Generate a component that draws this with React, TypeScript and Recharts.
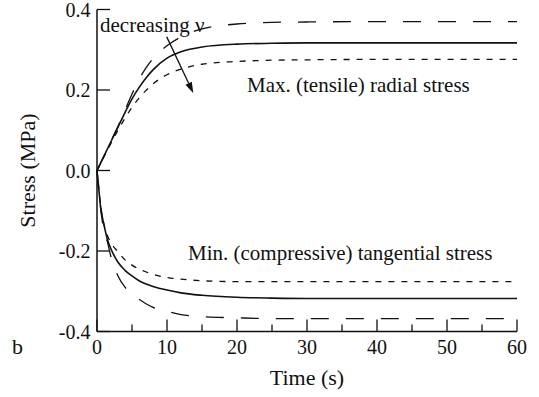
import React from "react";
import { LineChart, Line, XAxis, YAxis, ReferenceLine, ReferenceDot } from "recharts";

const FONT = "Liberation Serif, Times New Roman, serif";

// time samples (s)
const time = [0, 0.25, 0.5, 1, 1.5, 2, 3, 4, 5, 6, 7, 8, 10, 12, 15, 20, 25, 30, 40, 50, 60];

// max. (tensile) radial stress, MPa — high / mid / low Poisson ratio
const radialHigh = [0, 0.009, 0.018, 0.036, 0.054, 0.073, 0.11, 0.15, 0.19, 0.226, 0.255, 0.278, 0.31, 0.332, 0.352, 0.364, 0.368, 0.369, 0.37, 0.37, 0.37];
const radialMid = [0, 0.009, 0.018, 0.036, 0.054, 0.072, 0.108, 0.144, 0.178, 0.206, 0.23, 0.25, 0.279, 0.295, 0.307, 0.314, 0.316, 0.317, 0.317, 0.317, 0.317];
const radialLow = [0, 0.008, 0.017, 0.034, 0.051, 0.068, 0.1, 0.13, 0.157, 0.18, 0.199, 0.215, 0.238, 0.252, 0.264, 0.271, 0.274, 0.275, 0.276, 0.276, 0.276];

// min. (compressive) tangential stress, MPa
const tangentialHigh = [0, -0.05, -0.092, -0.15, -0.178, -0.215, -0.262, -0.29, -0.307, -0.32, -0.331, -0.34, -0.35, -0.358, -0.363, -0.366, -0.368, -0.368, -0.368, -0.368, -0.368];
const tangentialMid = [0, -0.045, -0.088, -0.135, -0.172, -0.195, -0.228, -0.248, -0.262, -0.274, -0.282, -0.288, -0.297, -0.304, -0.31, -0.315, -0.317, -0.318, -0.318, -0.318, -0.318];
const tangentialLow = [0, -0.045, -0.085, -0.135, -0.162, -0.18, -0.202, -0.222, -0.235, -0.245, -0.252, -0.258, -0.266, -0.27, -0.274, -0.276, -0.276, -0.276, -0.276, -0.276, -0.276];

const xTicks = [0, 5, 10, 15, 20, 25, 30, 35, 40, 45, 50, 55, 60];
const yTicks = [-0.4, -0.2, 0, 0.2, 0.4];

const data = time.map((t, i) => ({
  t,
  radialHigh: radialHigh[i],
  radialMid: radialMid[i],
  radialLow: radialLow[i],
  tangentialHigh: tangentialHigh[i],
  tangentialMid: tangentialMid[i],
  tangentialLow: tangentialLow[i],
}));

const ink = "#111";
const frame = { stroke: ink, strokeWidth: 1.5 };

// inward ticks, labelled every 10 s
const BottomTick = ({ x, y, payload }: any) => {
  const major = payload.value % 10 === 0;
  return (
    <g>
      <line x1={x} x2={x} y1={y} y2={y - (major ? 12 : 7)} stroke={ink} strokeWidth={1.3} />
      {major && (
        <text x={x} y={y + 22.5} textAnchor="middle" fontSize={20} fontFamily={FONT} fill={ink}>
          {payload.value}
        </text>
      )}
    </g>
  );
};

const TopTick = ({ x, y, payload }: any) => {
  const major = payload.value % 10 === 0;
  return <line x1={x} x2={x} y1={y} y2={y + (major ? 12 : 7)} stroke={ink} strokeWidth={1.3} />;
};

const LeftTick = ({ x, y, payload }: any) => (
  <g>
    <line x1={x} x2={x + 13} y1={y} y2={y} stroke={ink} strokeWidth={1.3} />
    <text x={x - 6.5} y={y} dy="0.35em" textAnchor="end" fontSize={20} fontFamily={FONT} fill={ink}>
      {Number(payload.value).toFixed(1)}
    </text>
  </g>
);

const RightTick = ({ x, y }: any) => (
  <line x1={x} x2={x - 13} y1={y} y2={y} stroke={ink} strokeWidth={1.3} />
);

const timeLabel = ({ viewBox }: any) => (
  <g fill={ink}>
    <text x={viewBox.x + viewBox.width / 2} y={viewBox.y + 53.5} textAnchor="middle" fontSize={22} fontFamily={FONT}>
      Time (s)
    </text>
    <text x={12} y={viewBox.y + 22.5} fontSize={22} fontFamily={FONT}>
      b
    </text>
  </g>
);

const stressLabel = ({ viewBox }: any) => {
  const cx = viewBox.x + 27;
  const cy = viewBox.y + viewBox.height / 2;
  return (
    <text x={cx} y={cy} dy="0.35em" transform={`rotate(-90 ${cx} ${cy})`} textAnchor="middle" fontSize={22} fontFamily={FONT} fill={ink}>
      Stress (MPa)
    </text>
  );
};

const note = (text: string) => ({ viewBox }: any) => (
  <text x={viewBox.x} y={viewBox.y} fontSize={21} fontFamily={FONT} fill={ink}>
    {text}
  </text>
);

const Arrow = ({ x1, y1, x2, y2 }: any) => {
  const a = Math.atan2(y2 - y1, x2 - x1);
  const len = 11;
  const half = 3.5;
  const bx = x2 - len * Math.cos(a);
  const by = y2 - len * Math.sin(a);
  const pts = [
    `${x2},${y2}`,
    `${bx + half * Math.sin(a)},${by - half * Math.cos(a)}`,
    `${bx - half * Math.sin(a)},${by + half * Math.cos(a)}`,
  ].join(" ");
  return (
    <g>
      <line x1={x1} y1={y1} x2={bx} y2={by} stroke={ink} strokeWidth={1.3} />
      <polygon points={pts} fill={ink} />
    </g>
  );
};

const lineBase = { type: "monotone" as const, stroke: ink, dot: false, isAnimationActive: false };

export default function App() {
  return (
    <div style={{ position: "absolute", left: 0, top: 0 }}>
      <LineChart width={539} height={397} data={data} margin={{ top: 9.5, right: 22, bottom: 0, left: 0 }}>
        <XAxis
          dataKey="t"
          type="number"
          domain={[0, 60]}
          ticks={xTicks}
          interval={0}
          height={65.5}
          tickSize={0}
          tickMargin={0}
          tickLine={false}
          axisLine={frame}
          tick={<BottomTick />}
          label={timeLabel}
        />
        <XAxis
          xAxisId="top"
          orientation="top"
          type="number"
          domain={[0, 60]}
          ticks={xTicks}
          interval={0}
          height={0}
          tickSize={0}
          tickMargin={0}
          tickLine={false}
          axisLine={frame}
          tick={<TopTick />}
        />
        <YAxis
          type="number"
          domain={[-0.4, 0.4]}
          ticks={yTicks}
          interval={0}
          width={97}
          tickSize={0}
          tickMargin={0}
          tickLine={false}
          axisLine={frame}
          tick={<LeftTick />}
          label={stressLabel}
        />
        <YAxis
          yAxisId="right"
          orientation="right"
          type="number"
          domain={[-0.4, 0.4]}
          ticks={yTicks}
          interval={0}
          width={0}
          tickSize={0}
          tickMargin={0}
          tickLine={false}
          axisLine={frame}
          tick={<RightTick />}
        />

        <Line {...lineBase} dataKey="radialHigh" strokeWidth={1.3} strokeDasharray="18 17" />
        <Line {...lineBase} dataKey="radialMid" strokeWidth={1.6} />
        <Line {...lineBase} dataKey="radialLow" strokeWidth={1.3} strokeDasharray="6 7" />
        <Line {...lineBase} dataKey="tangentialHigh" strokeWidth={1.3} strokeDasharray="18 17" />
        <Line {...lineBase} dataKey="tangentialMid" strokeWidth={1.6} />
        <Line {...lineBase} dataKey="tangentialLow" strokeWidth={1.3} strokeDasharray="6 7" />

        <ReferenceLine segment={[{ x: 9.96, y: 0.332 }, { x: 13.76, y: 0.192 }]} shape={Arrow} />
        <ReferenceDot x={0.43} y={0.344} r={0} fill="none" stroke="none" label={note("decreasing ν")} />
        <ReferenceDot x={21.43} y={0.195} r={0} fill="none" stroke="none" label={note("Max. (tensile) radial stress")} />
        <ReferenceDot x={13} y={-0.222} r={0} fill="none" stroke="none" label={note("Min. (compressive) tangential stress")} />
      </LineChart>
    </div>
  );
}
